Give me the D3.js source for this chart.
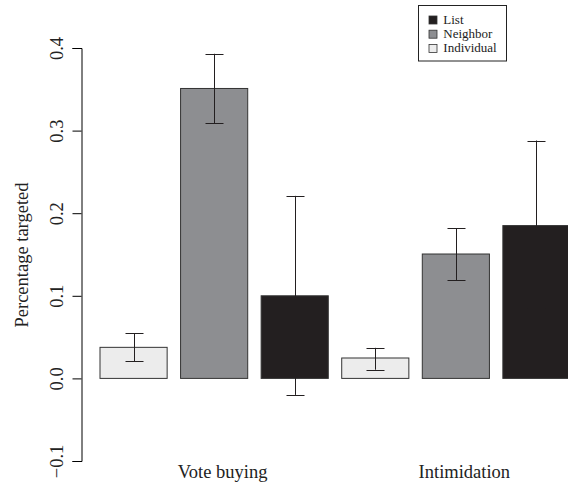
<!DOCTYPE html>
<html>
<head>
<meta charset="utf-8">
<script src="https://cdn.jsdelivr.net/npm/d3@7"></script>
<style>
  body { margin: 0; background: #fff; }
  svg { display: block; font-family: "Liberation Serif", "Times New Roman", serif; }
</style>
</head>
<body>
<div id="chart"></div>
<script>
// data
var groups = ["Vote buying", "Intimidation"];
var kinds = ["Individual", "Neighbor", "List"];
var values = [0.0376, 0.351, 0.100, 0.0247, 0.1506, 0.185];
var lower = [0.021, 0.309, -0.020, 0.0105, 0.1188, 0.085];
var upper = [0.0546, 0.393, 0.221, 0.037, 0.1817, 0.288];
var yTicks = [-0.1, 0, 0.1, 0.2, 0.3, 0.4];
var legendOrder = ["List", "Neighbor", "Individual"];

var width = 568;
var height = 485;
var fontFam = "'Liberation Serif', 'Times New Roman', serif";

var fills = { "Individual": "#ececec", "Neighbor": "#8d8e91", "List": "#231f20" };

// one entry per bar, group by group
var bars = [];
groups.forEach(function (g, gi) {
    kinds.forEach(function (k, ki) {
        var i = gi * kinds.length + ki;
        bars.push({ id: i, group: g, kind: k, value: values[i], lo: lower[i], hi: upper[i] });
    });
});

var svg = d3.select("#chart")
            .append("svg")
            .attr("width", width)
            .attr("height", height);

var y = d3.scaleLinear().domain([-0.1, 0.4]).range([461, 48]);

var x = d3.scaleBand()
          .domain(bars.map(function (d) { return d.id; }))
          .range([100, 570])
          .paddingInner(0.1667)
          .paddingOuter(0);

// bars
svg.append("g")
   .selectAll("rect")
   .data(bars)
   .enter()
   .append("rect")
   .attr("x", function (d) { return x(d.id); })
   .attr("y", function (d) { return y(Math.max(0, d.value)); })
   .attr("width", x.bandwidth())
   .attr("height", function (d) { return Math.abs(y(d.value) - y(0)); })
   .attr("fill", function (d) { return fills[d.kind]; })
   .attr("stroke", "#333")
   .attr("stroke-width", 1);

// error bars (same near-black as the List bars, so the part inside them disappears)
var capW = 9;
var err = svg.append("g")
             .attr("stroke", "#231f20")
             .attr("stroke-width", 1)
             .attr("fill", "none");

bars.forEach(function (d) {
    var cx = Math.round(x(d.id) + x.bandwidth() / 2) + 0.5;
    err.append("line")
       .attr("x1", cx).attr("x2", cx)
       .attr("y1", y(d.lo)).attr("y2", y(d.hi));
    [d.lo, d.hi].forEach(function (v) {
        var yy = Math.round(y(v)) + 0.5;
        err.append("line")
           .attr("x1", cx - capW).attr("x2", cx + capW)
           .attr("y1", yy).attr("y2", yy);
    });
});

// y axis, R style with rotated labels
var axis = svg.append("g")
              .attr("transform", "translate(81.5,0)")
              .call(d3.axisLeft(y).tickValues(yTicks).tickFormat(d3.format(".1f")).tickSizeOuter(0).tickSize(9));

axis.select(".domain").attr("stroke", "#000");
axis.selectAll(".tick line").attr("stroke", "#000");
axis.selectAll(".tick text")
    .attr("x", 0)
    .attr("dy", 0)
    .attr("transform", "translate(-18.5,0) rotate(-90)")
    .attr("text-anchor", "middle")
    .attr("fill", "#222")
    .style("font-size", "18.5px")
    .style("font-family", fontFam);

svg.append("text")
   .attr("transform", "translate(27.5,255) rotate(-90)")
   .attr("text-anchor", "middle")
   .attr("fill", "#222")
   .style("font-size", "18.5px")
   .style("font-family", fontFam)
   .text("Percentage targeted");

// group labels under the middle bars
svg.append("g")
   .selectAll("text")
   .data(groups)
   .enter()
   .append("text")
   .attr("x", function (g, gi) { return x(gi * kinds.length + 1) + x.bandwidth() / 2 + 8.5; })
   .attr("y", 478)
   .attr("text-anchor", "middle")
   .attr("fill", "#222")
   .style("font-size", "18.5px")
   .style("font-family", fontFam)
   .text(function (g) { return g; });

// legend
var legend = svg.append("g").attr("transform", "translate(418.5,5.5)");
legend.append("rect")
      .attr("width", 88)
      .attr("height", 55.5)
      .attr("fill", "#fff")
      .attr("stroke", "#222")
      .attr("stroke-width", 1);

var rows = legend.selectAll("g.row")
                 .data(legendOrder)
                 .enter()
                 .append("g")
                 .attr("class", "row")
                 .attr("transform", function (d, i) { return "translate(0," + (14 + i * 14.2) + ")"; });

rows.append("rect")
    .attr("x", 10.5)
    .attr("y", -3.5)
    .attr("width", 8)
    .attr("height", 8)
    .attr("fill", function (d) { return fills[d]; })
    .attr("stroke", "#333")
    .attr("stroke-width", 0.8);

rows.append("text")
    .attr("x", 24.8)
    .attr("y", 4.5)
    .attr("fill", "#222")
    .style("font-size", "13px")
    .style("font-family", fontFam)
    .text(function (d) { return d; });
</script>
</body>
</html>
